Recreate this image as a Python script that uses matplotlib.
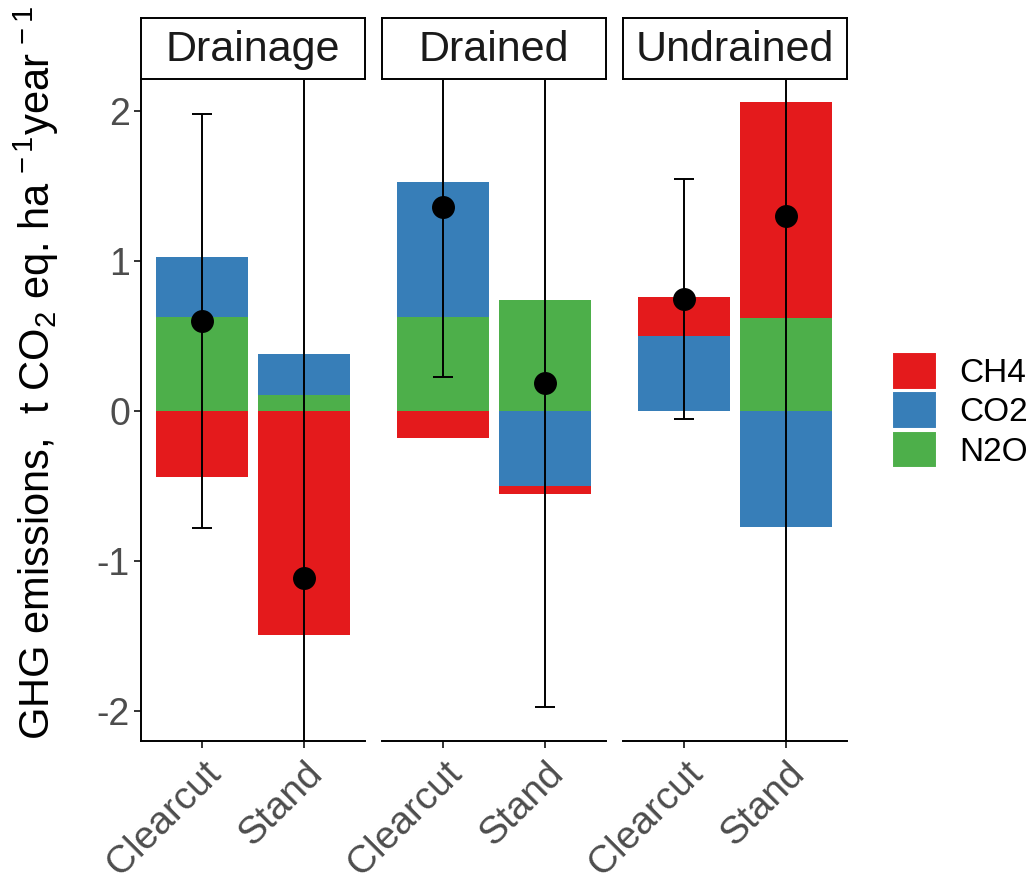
import matplotlib
matplotlib.use("Agg")
import matplotlib.pyplot as plt
from matplotlib.patches import Patch
import numpy as np

plt.rcParams['font.family'] = ['Liberation Sans', 'DejaVu Sans']
plt.rcParams['mathtext.fontset'] = 'custom'
plt.rcParams['mathtext.rm'] = 'Liberation Sans'
plt.rcParams['mathtext.it'] = 'Liberation Sans:italic'

facets = ["Drainage", "Drained", "Undrained"]
sites = ["Clearcut", "Stand"]
gases = ["CH4", "CO2", "N2O"]
ch4 = [[-0.44, -1.49], [-0.18, -0.05], [0.26, 1.44]]
co2 = [[0.40, 0.27], [0.90, -0.50], [0.50, -0.77]]
n2o = [[0.63, 0.11], [0.63, 0.74], [0.00, 0.62]]
mean = [[0.60, -1.11], [1.36, 0.19], [0.75, 1.30]]
err = [[1.38, 3.40], [1.13, 2.16], [0.80, 3.60]]
colors = {"CH4": "#E41A1C", "CO2": "#377EB8", "N2O": "#4DAF4A"}
yticks = [-2, -1, 0, 1, 2]

W, H = 1035, 886
fig = plt.figure(figsize=(W / 100, H / 100), dpi=100)


def px(l, t, r, b):
    return [l / W, 1 - b / H, (r - l) / W, (b - t) / H]


gas_vals = {"CH4": ch4, "CO2": co2, "N2O": n2o}
stack_order = ["N2O", "CO2", "CH4"]
lw = 1.4
x = np.arange(1, len(sites) + 1)

for i, facet in enumerate(facets):
    left = 141 + 241 * i
    ax = fig.add_axes(px(left, 80, left + 224, 741))
    pos = np.zeros(len(sites))
    neg = np.zeros(len(sites))
    for g in stack_order:
        v = np.array(gas_vals[g][i])
        base = np.where(v >= 0, pos, neg)
        ax.bar(x, v, bottom=base, width=0.9, color=colors[g], linewidth=0, zorder=2)
        pos = pos + np.where(v >= 0, v, 0)
        neg = neg + np.where(v < 0, v, 0)
    ax.errorbar(x, mean[i], yerr=err[i], fmt='none', ecolor='black',
                elinewidth=lw, capsize=7.2, capthick=lw, zorder=3)
    ax.plot(x, mean[i], 'o', color='black', markersize=15.5, zorder=4)
    ax.set_xlim(0.4, 2.6)
    ax.set_ylim(-2.2, 2.2067)
    ax.set_xticks(x)
    ax.set_xticklabels(sites, rotation=45, ha='right', va='top',
                       rotation_mode='anchor', fontsize=28, color='#4D4D4D')
    ax.tick_params(axis='both', length=5, width=lw, color='#333333', pad=3)
    ax.tick_params(axis='x', pad=5)
    for s in ['top', 'right']:
        ax.spines[s].set_visible(False)
    ax.spines['bottom'].set_linewidth(lw)
    ax.spines['left'].set_linewidth(lw)
    if i == 0:
        ax.set_yticks(yticks)
        ax.set_yticklabels([str(t) for t in yticks], fontsize=27, color='#4D4D4D')
    else:
        ax.spines['left'].set_visible(False)
        ax.set_yticks([])
    # strip
    sax = fig.add_axes(px(left, 18, left + 224, 79))
    sax.set_xticks([])
    sax.set_yticks([])
    for s in sax.spines.values():
        s.set_linewidth(lw)
        s.set_color('black')
    sax.text(0.5, 0.47, facet, ha='center', va='center', fontsize=31,
             color='#1A1A1A', transform=sax.transAxes)

fig.text(36 / W, 1 - 373 / H,
         r"GHG emissions,  t CO$_2$ eq. ha$^{\,-1}$year$^{\,-1}$",
         rotation=90, ha='center', va='center', fontsize=30, color='black')

handles = [Patch(facecolor=colors[g], edgecolor='white', linewidth=1.5) for g in gases]
fig.legend(handles, gases, loc='upper left', bbox_to_anchor=(892 / W, 1 - 352 / H),
           frameon=False, fontsize=24, handlelength=1.36, handleheight=1.36,
           handletextpad=0.66, labelspacing=0.05, borderpad=0, borderaxespad=0)

fig.savefig("out.png", dpi=100)
